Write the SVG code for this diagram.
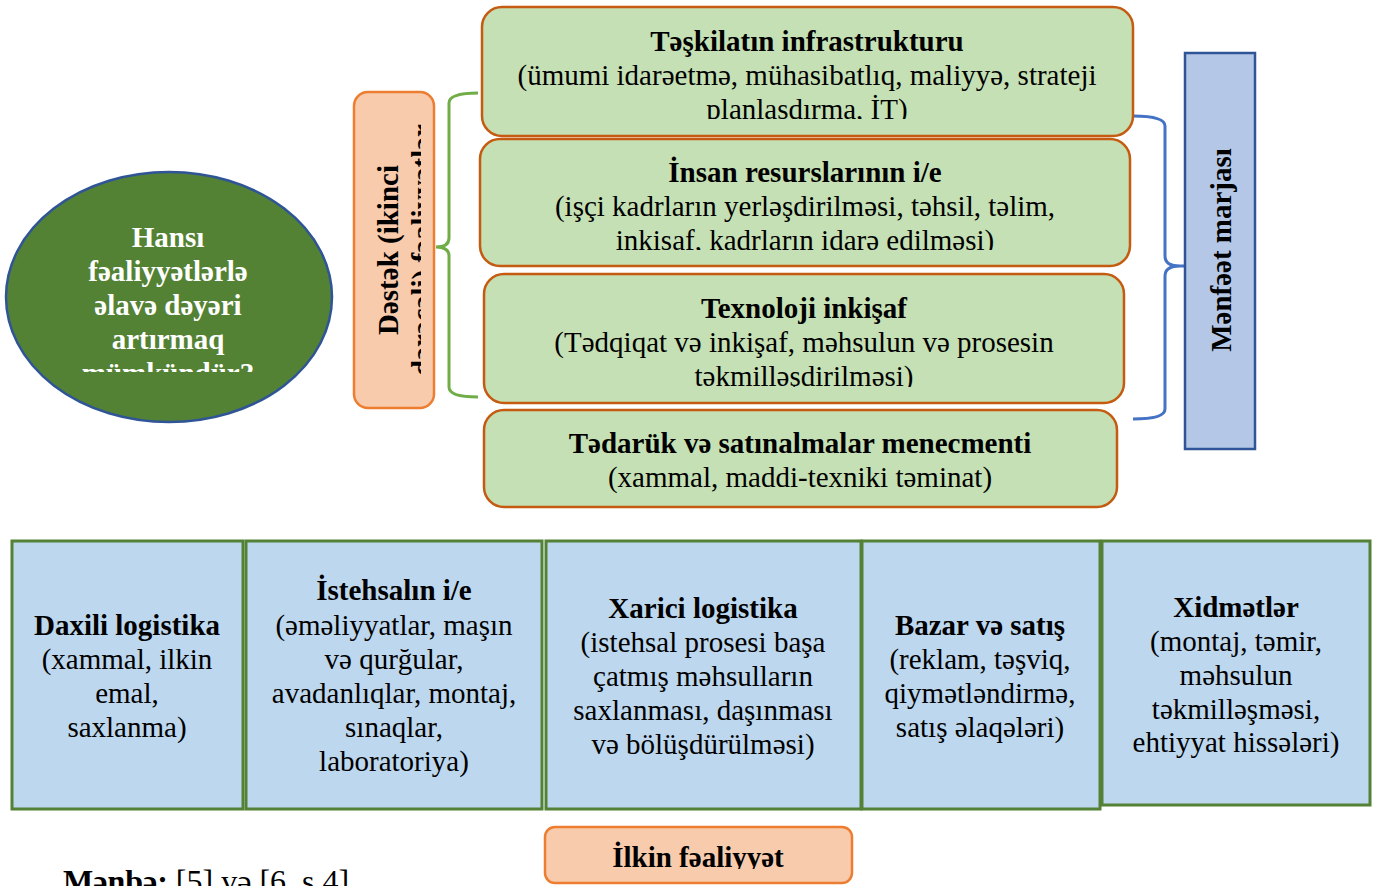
<svg xmlns="http://www.w3.org/2000/svg" width="1381" height="886" viewBox="0 0 1381 886">
<style>
text{font-family:"Liberation Serif","Times New Roman",serif;font-size:29px;fill:#000;text-anchor:middle}
.b{font-weight:bold}
.w{fill:#fff}
.sup{fill:#C5E0B4;stroke:#C55A11;stroke-width:2.5}
.pri{fill:#BDD7EE;stroke:#538135;stroke-width:3}
.peach{fill:#F8CBAD;stroke:#ED7D31;stroke-width:2.5}
.brace{fill:none;stroke-width:3}
</style>
<defs>
<clipPath id="cEll"><rect x="0" y="200" width="340" height="172"/></clipPath>
<clipPath id="c1"><rect x="482" y="7" width="651" height="112"/></clipPath>
<clipPath id="c2"><rect x="480" y="139" width="650" height="111"/></clipPath>
<clipPath id="c3"><rect x="484" y="274" width="640" height="113"/></clipPath>
<clipPath id="cD"><rect x="354" y="92" width="67" height="316"/></clipPath>
<clipPath id="cI"><rect x="545" y="827" width="307" height="42"/></clipPath>
</defs>
<rect width="1381" height="886" fill="#fff"/>

<g id="connectors">
<path class="brace" stroke="#70AD47" d="M478,93 Q449,93 449,103 L449,238 Q449,247 436,247 Q449,247 449,256 L449,387 Q449,397 478,397"/>
<path class="brace" stroke="#4472C4" d="M1133,116 Q1165,116 1165,126 L1165,256 Q1165,266 1180,266 L1195,266 M1180,266 Q1165,266 1165,276 L1165,409 Q1165,419 1133,419"/>
</g>

<g id="question">
<ellipse cx="169" cy="297" rx="163" ry="125" fill="#548235" stroke="#2F5597" stroke-width="2.5"/>
<g clip-path="url(#cEll)">
<text class="b w" x="168" y="247">Hansı</text>
<text class="b w" x="168" y="281">fəaliyyətlərlə</text>
<text class="b w" x="168" y="315">əlavə dəyəri</text>
<text class="b w" x="168" y="349">artırmaq</text>
<text class="b w" x="168" y="383">mümkündür?</text>
</g>
</g>

<g id="support-label">
<rect class="peach" x="354" y="92" width="80" height="316" rx="14"/>
<g clip-path="url(#cD)">
<text class="b" transform="translate(398,250) rotate(-90)">Dəstək (ikinci</text>
<text class="b" transform="translate(432,250) rotate(-90)">dərəcəli) fəaliyyətlər</text>
</g>
</g>

<g id="infra">
<rect class="sup" x="482" y="7" width="651" height="129" rx="20"/>
<text class="b" x="807" y="51">Təşkilatın infrastrukturu</text>
<text x="807" y="85">(ümumi idarəetmə, mühasibatlıq, maliyyə, strateji</text>
<text x="807" y="119" clip-path="url(#c1)">planlaşdırma, İT)</text>
</g>

<g id="hr">
<rect class="sup" x="480" y="139" width="650" height="127" rx="20"/>
<text class="b" x="805" y="182">İnsan resurslarının i/e</text>
<text x="805" y="216">(işçi kadrların yerləşdirilməsi, təhsil, təlim,</text>
<text x="805" y="250" clip-path="url(#c2)">inkişaf, kadrların idarə edilməsi)</text>
</g>

<g id="tech">
<rect class="sup" x="484" y="274" width="640" height="129" rx="20"/>
<text class="b" x="804" y="318">Texnoloji inkişaf</text>
<text x="804" y="352">(Tədqiqat və inkişaf, məhsulun və prosesin</text>
<text x="804" y="386" clip-path="url(#c3)">təkmilləşdirilməsi)</text>
</g>

<g id="procurement">
<rect class="sup" x="484" y="410" width="633" height="97" rx="20"/>
<text class="b" x="800" y="453">Tədarük və satınalmalar menecmenti</text>
<text x="800" y="487">(xammal, maddi-texniki təminat)</text>
</g>

<g id="margin">
<rect x="1185" y="53" width="70" height="396" fill="#B4C7E7" stroke="#2F5597" stroke-width="2.5"/>
<text class="b" transform="translate(1231,250) rotate(-90)">Mənfəət marjası</text>
</g>

<g id="inbound">
<rect class="pri" x="12" y="541" width="231" height="268"/>
<text class="b" x="127" y="635">Daxili logistika</text>
<text x="127" y="669">(xammal, ilkin</text>
<text x="127" y="703">emal,</text>
<text x="127" y="737">saxlanma)</text>
</g>

<g id="operations">
<rect class="pri" x="246" y="541" width="296" height="268"/>
<text class="b" x="394" y="600">İstehsalın i/e</text>
<text x="394" y="635">(əməliyyatlar, maşın</text>
<text x="394" y="669">və qurğular,</text>
<text x="394" y="703">avadanlıqlar, montaj,</text>
<text x="394" y="737">sınaqlar,</text>
<text x="394" y="771">laboratoriya)</text>
</g>

<g id="outbound">
<rect class="pri" x="546" y="541" width="315" height="268"/>
<text class="b" x="703" y="618">Xarici logistika</text>
<text x="703" y="652">(istehsal prosesi başa</text>
<text x="703" y="686">çatmış məhsulların</text>
<text x="703" y="720">saxlanması, daşınması</text>
<text x="703" y="754">və bölüşdürülməsi)</text>
</g>

<g id="sales">
<rect class="pri" x="862" y="541" width="238" height="268"/>
<text class="b" x="980" y="635">Bazar və satış</text>
<text x="980" y="669">(reklam, təşviq,</text>
<text x="980" y="703">qiymətləndirmə,</text>
<text x="980" y="737">satış əlaqələri)</text>
</g>

<g id="services">
<rect class="pri" x="1102" y="541" width="268" height="264"/>
<text class="b" x="1236" y="617">Xidmətlər</text>
<text x="1236" y="651">(montaj, təmir,</text>
<text x="1236" y="685">məhsulun</text>
<text x="1236" y="719">təkmilləşməsi,</text>
<text x="1236" y="752">ehtiyyat hissələri)</text>
</g>

<g id="primary-label">
<rect class="peach" x="545" y="827" width="307" height="56" rx="10"/>
<text class="b" x="698" y="867" clip-path="url(#cI)">İlkin fəaliyyət</text>
</g>

<g id="source">
<text x="63" y="892" style="text-anchor:start;font-size:32px"><tspan class="b">Mənbə:</tspan> [5] və [6, s.4]</text>
</g>
</svg>
